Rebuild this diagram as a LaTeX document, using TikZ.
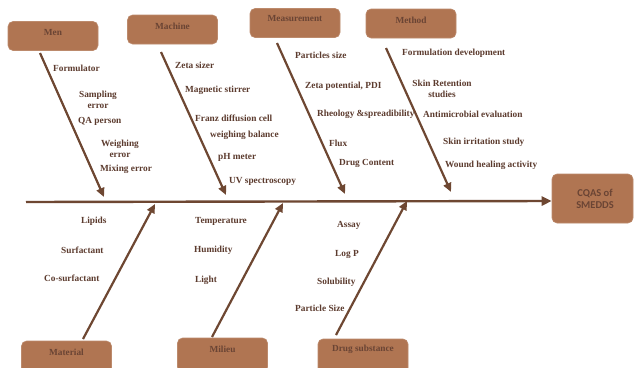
\documentclass[tikz,border=0pt]{standalone}
\usepackage{fontspec}
\setmainfont{Liberation Serif}
\newfontfamily\calib{Carlito}
\usetikzlibrary{arrows.meta}
\definecolor{boxfill}{HTML}{B07552}
\definecolor{boxtxt}{HTML}{6A4434}
\definecolor{arr}{HTML}{6E4732}
\definecolor{lab}{HTML}{5C3B2E}
\tikzset{
  box/.style={draw=boxfill!85!white, line width=0.6pt, fill=boxfill, rounded corners=5pt, minimum width=90pt, minimum height=29pt, inner sep=0pt},
  boxtext/.style={text=boxtxt, font=\bfseries\fontsize{9.3}{10}\selectfont, inner sep=0pt},
  lbl/.style={text=lab, font=\bfseries\fontsize{9.3}{11}\selectfont, inner sep=0pt, anchor=west},
  clbl/.style={text=lab, font=\bfseries\fontsize{9.3}{11}\selectfont, inner sep=0pt, align=center},
  bone/.style={draw=arr, line width=2.2pt, -{Triangle[length=9pt,width=8pt]}},
  spine/.style={draw=arr, line width=2.4pt, -{Triangle[length=10pt,width=9pt]}}
}
\begin{document}
\begin{tikzpicture}[x=1pt,y=-1pt]
\path[use as bounding box, fill=white] (0,0) rectangle (634,367);

% boxes
\node[box] (men) at (53,36) {};
\node[boxtext] (menT) at (53,32) {Men};
\node[box] (mach) at (172.5,29.5) {};
\node[boxtext] (machT) at (172.5,26) {Machine};
\node[box] (meas) at (295,23) {};
\node[boxtext] (measT) at (295,19) {Measurement};
\node[box] (meth) at (411,23.5) {};
\node[boxtext] (methT) at (411,20) {Method};
\node[box, minimum width=81pt, minimum height=49pt] (cqa) at (592.5,198.5) {};
\node[text=boxtxt, font=\calib\bfseries\fontsize{10.5}{12}\selectfont, align=center, inner sep=0pt] (cqaT) at (595,199) {CQAS of\\SMEDDS};

\node[box, minimum height=34pt] (mat) at (66.5,358) {};
\node[boxtext] (matT) at (66.5,352) {Material};
\node[box, minimum height=34pt] (mil) at (222.5,355) {};
\node[boxtext] (milT) at (222.5,349) {Milieu};
\node[box, minimum height=34pt] (drug) at (363,356) {};
\node[boxtext] (drugT) at (363,349.5) {Drug substance};

% spine
\coordinate (sp0) at (26,202);
\draw[spine] (sp0) -- (cqa.west |- 0,201);

% top bones
\coordinate (a1) at (40,53);   \coordinate (b1) at (104,197);
\coordinate (a2) at (161,52);  \coordinate (b2) at (226,195);
\coordinate (a3) at (277,43);  \coordinate (b3) at (345,194);
\coordinate (a4) at (386,48);  \coordinate (b4) at (451,192);
\draw[bone] (a1) -- (b1);
\draw[bone] (a2) -- (b2);
\draw[bone] (a3) -- (b3);
\draw[bone] (a4) -- (b4);

% bottom bones
\coordinate (c1) at (83,339);  \coordinate (d1) at (155,204);
\coordinate (c2) at (212,337); \coordinate (d2) at (283,203);
\coordinate (c3) at (336,335); \coordinate (d3) at (407,201);
\draw[bone] (c1) -- (d1);
\draw[bone] (c2) -- (d2);
\draw[bone] (c3) -- (d3);

% Men labels
\node[lbl] (l11) at (53,68) {Formulator};
\node[clbl] (l12) at (98,100) {Sampling\\error};
\node[lbl] (l13) at (78,121) {QA person};
\node[clbl] (l14) at (120,149) {Weighing\\error};
\node[lbl] (l15) at (100,169) {Mixing error};

% Machine labels
\node[lbl] (l21) at (175,65) {Zeta sizer};
\node[lbl] (l22) at (185,90) {Magnetic stirrer};
\node[lbl] (l23) at (195,118) {Franz diffusion cell};
\node[lbl] (l24) at (210,135) {weighing balance};
\node[lbl] (l25) at (218,157) {pH meter};
\node[lbl] (l26) at (229,181) {UV spectroscopy};

% Measurement labels
\node[lbl] (l31) at (295,55) {Particles size};
\node[lbl] (l32) at (305,86) {Zeta potential, PDI};
\node[lbl] (l33) at (317,114) {Rheology \&spreadibility};
\node[lbl] (l34) at (329,143) {Flux};
\node[lbl] (l35) at (339,163) {Drug Content};

% Method labels
\node[lbl] (l41) at (402,53) {Formulation development};
\node[clbl] (l42) at (442,89) {Skin Retention\\studies};
\node[lbl] (l43) at (423,114) {Antimicrobial evaluation};
\node[lbl] (l44) at (443,142) {Skin irritation study};
\node[lbl] (l45) at (445,165) {Wound healing activity};

% Material labels
\node[lbl] (l51) at (81,221) {Lipids};
\node[lbl] (l52) at (61,250) {Surfactant};
\node[lbl] (l53) at (44,278) {Co-surfactant};

% Milieu labels
\node[lbl] (l61) at (195,221) {Temperature};
\node[lbl] (l62) at (194,250) {Humidity};
\node[lbl] (l63) at (195,280) {Light};

% Drug substance labels
\node[lbl] (l71) at (337,225) {Assay};
\node[lbl] (l72) at (335,254) {Log P};
\node[lbl] (l73) at (317,282) {Solubility};
\node[lbl] (l74) at (295,308) {Particle Size};
\end{tikzpicture}
\end{document}
